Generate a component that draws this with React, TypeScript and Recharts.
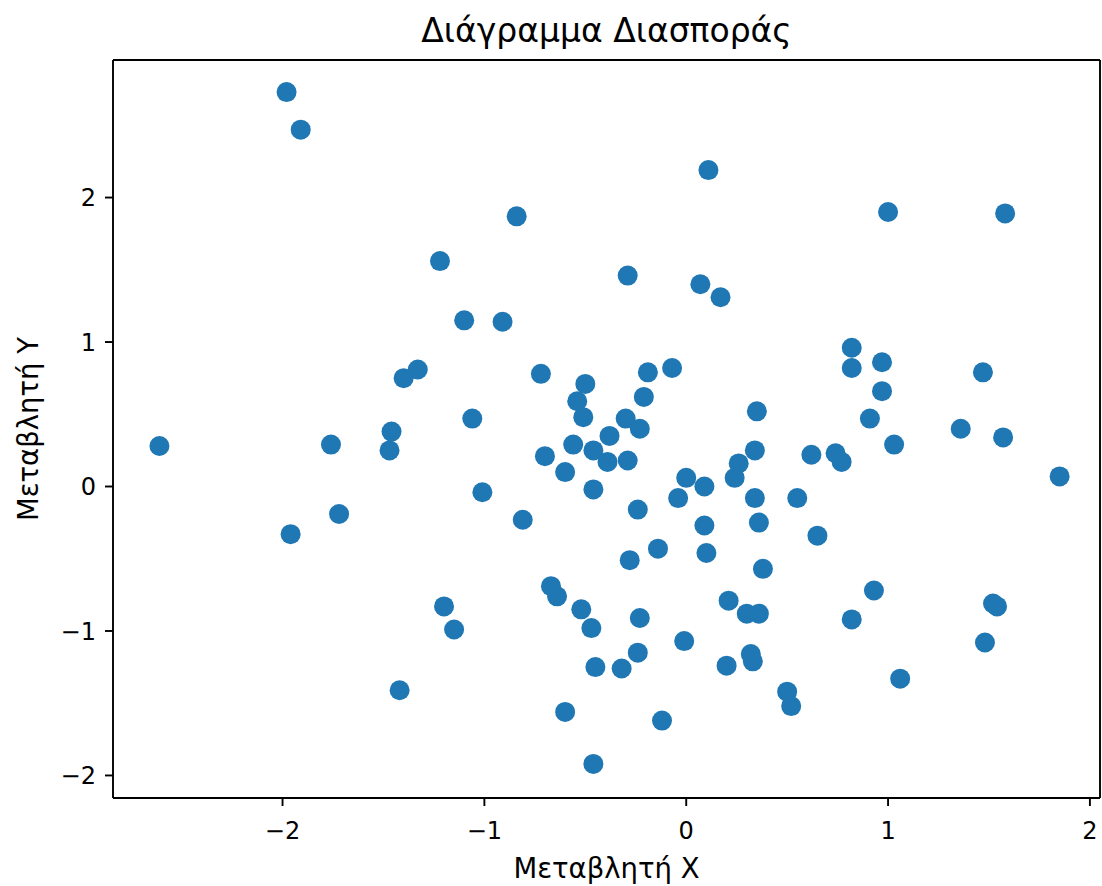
import { Label, ReferenceLine, Scatter, ScatterChart, XAxis, YAxis } from 'recharts';

const title = 'Διάγραμμα Διασποράς';
const xLabel = 'Μεταβλητή X';
const yLabel = 'Μεταβλητή Y';

const xTicks = [-2, -1, 0, 1, 2];
const yTicks = [-2, -1, 0, 1, 2];
const xDomain = [-2.84, 2.05];
const yDomain = [-2.156, 2.952];

// values, one point per index
const xValues = [
  -1.98, -1.91, -1.22, -0.84, -1.1, -0.91, -0.29, 0.11, 0.07, 0.17, 1.0, 1.58,
  -2.61, -1.33, -1.4, -1.46, -1.47, -1.76, -1.72, -1.96,
  -0.72, -0.5, -0.54, -0.51, -0.19, -0.07, -0.21, -0.3, -0.23, -1.06, -0.38, -0.56, -0.46,
  -0.39, -0.29, -0.7, -0.6, -0.46, -1.01, -0.81, -0.24, 0.0, 0.09, -0.04, 0.26, 0.24,
  0.35, 0.34, 0.34, 0.09, -0.14, 0.1, -0.28, -0.67, -0.64,
  0.82, 0.82, 0.97, 0.97, 0.91, 1.03, 1.47, 1.36, 1.57, 1.85, 0.62, 0.74, 0.77, 0.55, 0.36, 0.65, 0.38,
  -1.42, -1.2, -1.15, -0.52, -0.47, -0.23, -0.24, -0.01, -0.45, -0.32, -0.6, -0.12, -0.46, 0.21,
  0.3, 0.36, 0.2, 0.32, 0.33, 0.93, 0.82, 1.52, 1.54, 1.48, 1.06, 0.5, 0.52,
];
const yValues = [
  2.73, 2.47, 1.56, 1.87, 1.15, 1.14, 1.46, 2.19, 1.4, 1.31, 1.9, 1.89,
  0.28, 0.81, 0.75, 0.38, 0.25, 0.29, -0.19, -0.33,
  0.78, 0.71, 0.59, 0.48, 0.79, 0.82, 0.62, 0.47, 0.4, 0.47, 0.35, 0.29, 0.25,
  0.17, 0.18, 0.21, 0.1, -0.02, -0.04, -0.23, -0.16, 0.06, 0.0, -0.08, 0.16, 0.06,
  0.52, 0.25, -0.08, -0.27, -0.43, -0.46, -0.51, -0.69, -0.76,
  0.96, 0.82, 0.86, 0.66, 0.47, 0.29, 0.79, 0.4, 0.34, 0.07, 0.22, 0.23, 0.17, -0.08, -0.25, -0.34, -0.57,
  -1.41, -0.83, -0.99, -0.85, -0.98, -0.91, -1.15, -1.07, -1.25, -1.26, -1.56, -1.62, -1.92, -0.79,
  -0.88, -0.88, -1.24, -1.16, -1.21, -0.72, -0.92, -0.81, -0.83, -1.08, -1.33, -1.42, -1.52,
];

const data = xValues.map((x, i) => ({ x, y: yValues[i] }));

const FONT = 'DejaVu Sans';
const BLUE = '#1f77b4';
const fmt = (v: number) => String(v).replace('-', '\u2212');
const spine = { stroke: '#000', strokeWidth: 1.9 };

export default function App() {
  return (
    <div style={{ position: 'absolute', left: 0, top: 0, width: 1102, height: 886, background: '#fff' }}>
      <svg width={1102} height={60} style={{ position: 'absolute', left: 0, top: 0 }}>
        <text x={606.5} y={42} textAnchor="middle" fill="#000" fontSize={33} fontFamily={FONT}>
          {title}
        </text>
      </svg>
      <ScatterChart width={1102} height={886} margin={{ top: 60, right: 2, bottom: 0, left: 0 }}>
        <XAxis
          dataKey="x"
          type="number"
          domain={xDomain}
          ticks={xTicks}
          allowDataOverflow
          height={88}
          tickSize={8}
          tickMargin={16}
          axisLine={spine}
          tickLine={spine}
          tick={{ fill: '#000', fontSize: 24, fontFamily: FONT }}
          tickFormatter={fmt}
        >
          <Label value={xLabel} position="insideBottom" offset={8} fill="#000" fontSize={27.5} fontFamily={FONT} />
        </XAxis>
        <YAxis
          dataKey="y"
          type="number"
          domain={yDomain}
          ticks={yTicks}
          allowDataOverflow
          width={113}
          tickSize={8}
          tickMargin={9}
          axisLine={spine}
          tickLine={spine}
          tick={{ fill: '#000', fontSize: 24, fontFamily: FONT }}
          tickFormatter={fmt}
        >
          <Label
            content={(props: any) => {
              const vb = props.viewBox || {};
              const cy = (vb.y ?? 60) + (vb.height ?? 738) / 2;
              const lx = 38;
              return (
                <text
                  x={lx}
                  y={cy}
                  transform={`rotate(-90 ${lx} ${cy})`}
                  textAnchor="middle"
                  fill="#000"
                  fontSize={27.5}
                  fontFamily={FONT}
                >
                  {yLabel}
                </text>
              );
            }}
          />
        </YAxis>
        {/* top and right spines */}
        <ReferenceLine y={yDomain[1]} stroke="#000" strokeWidth={1.9} ifOverflow="extendDomain" />
        <ReferenceLine x={xDomain[1]} stroke="#000" strokeWidth={1.9} ifOverflow="extendDomain" />
        <Scatter
          data={data}
          fill={BLUE}
          isAnimationActive={false}
          shape={(p: any) => <circle cx={p.cx} cy={p.cy} r={10} fill={BLUE} />}
        />
      </ScatterChart>
    </div>
  );
}
